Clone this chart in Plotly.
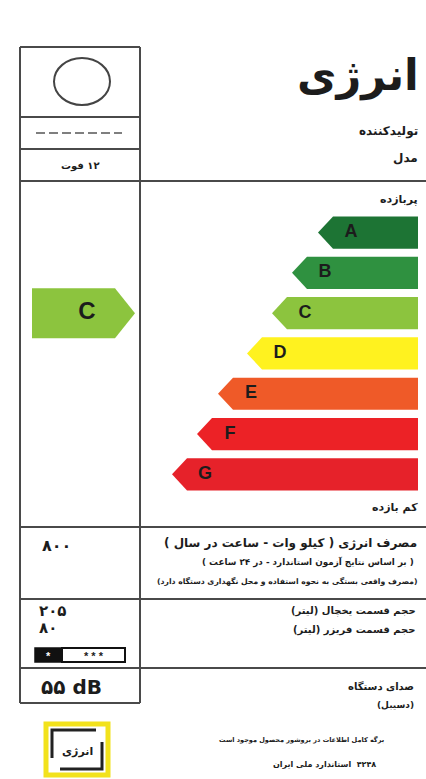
import plotly.graph_objects as go

# ---------------- data ----------------
classes = ["A", "B", "C", "D", "E", "F", "G"]
bar_lengths = [100, 126, 146, 171, 200, 221, 246]
class_colors = ["#1d7434", "#2f9140", "#8cc43e", "#fff21f", "#ef5a28", "#ec2226", "#e6222a"]
rating = "C"

title_text = "انرژی"
maker_label = "تولیدکننده"
model_label = "مدل"
high_eff_label = "پربازده"
low_eff_label = "کم بازده"
capacity_value = "۱۲ فوت"
energy_lines = ["مصرف انرژی ( کیلو وات - ساعت در سال )",
                "( بر اساس نتایج آزمون استاندارد - در ۲۴ ساعت )",
                "(مصرف واقعی بستگی به نحوه استفاده و محل نگهداری دستگاه دارد)"]
energy_value = "۸۰۰"
volume_lines = ["حجم قسمت یخچال (لیتر)", "حجم قسمت فریزر (لیتر)"]
volume_values = ["۲۰۵", "۸۰"]
freezer_stars = ["*", "* * *"]
noise_lines = ["صدای دستگاه", "(دسیبل)"]
noise_value = "۵۵ dB"
footer_lines = ["برگه کامل اطلاعات در بروشور محصول موجود است", "۴۲۴۸  استاندارد ملی ایران"]
logo_text = "انرژی"

FA = "DejaVu Sans"
LAT = "Liberation Sans"
INK = "#1c1c1c"
LINE = "#4a4a4a"
RLE, PDF = "\u202B", "\u202C"

fig = go.Figure()

# ---------------- efficiency scale ----------------
R = 418
tip = 15
h = 0.4
for i, (c, L, col) in enumerate(zip(classes, bar_lengths, class_colors)):
    tx = R - L
    rx = tx + tip
    fig.add_trace(go.Scatter(
        x=[R, rx, tx, rx, R, R], y=[i - h, i - h, i, i + h, i + h, i - h],
        mode="lines", fill="toself", fillcolor=col, line=dict(width=0, color=col),
        xaxis="x", yaxis="y2", hoverinfo="skip", showlegend=False))
    fig.add_trace(go.Scatter(
        x=[tx + 33], y=[i], mode="text", text=[f"<b>{c}</b>"],
        textfont=dict(family=LAT, size=18, color=INK),
        xaxis="x", yaxis="y2", hoverinfo="skip", showlegend=False))

# rating indicator (left column)
ri = classes.index(rating)
ih = 0.62
fig.add_trace(go.Scatter(
    x=[32, 115, 135, 115, 32, 32], y=[ri - ih, ri - ih, ri, ri + ih, ri + ih, ri - ih],
    mode="lines", fill="toself", fillcolor=class_colors[ri],
    line=dict(width=0, color=class_colors[ri]),
    xaxis="x", yaxis="y2", hoverinfo="skip", showlegend=False))
fig.add_trace(go.Scatter(
    x=[87], y=[ri], mode="text", text=[f"<b>{rating}</b>"],
    textfont=dict(family=LAT, size=24, color=INK),
    xaxis="x", yaxis="y2", hoverinfo="skip", showlegend=False))

# ---------------- frame ----------------
shapes = []
def hline(y, x0, x1, w=2):
    shapes.append(dict(type="line", xref="x", yref="y", x0=x0, x1=x1, y0=y, y1=y,
                       line=dict(color=LINE, width=w)))
def vline(x, y0, y1, w=2):
    shapes.append(dict(type="line", xref="x", yref="y", x0=x, x1=x, y0=y0, y1=y1,
                       line=dict(color=LINE, width=w)))

vline(20, 47, 703)
vline(140, 47, 703)
hline(47, 20, 140)
hline(703, 20, 140)
hline(117, 20, 140)
hline(149, 20, 140)
for yy in (181, 527, 599, 668):
    hline(yy, 20, 426)

# circle
shapes.append(dict(type="circle", xref="x", yref="y", x0=54, x1=110, y0=58, y1=105,
                   line=dict(color="#444444", width=2)))
# dashes
shapes.append(dict(type="line", xref="x", yref="y", x0=36, x1=122, y0=133, y1=133,
                   line=dict(color="#555555", width=1.5, dash="9px,4px")))
# freezer star box
shapes.append(dict(type="rect", xref="x", yref="y", x0=35, x1=62, y0=648, y1=662,
                   fillcolor="#111111", line=dict(color="#111111", width=1.5)))
shapes.append(dict(type="rect", xref="x", yref="y", x0=62, x1=125, y0=648, y1=662,
                   fillcolor="white", line=dict(color="#111111", width=2)))
# logo
shapes.append(dict(type="rect", xref="x", yref="y", x0=46, x1=108, y0=724, y1=775,
                   line=dict(color="#f2e21c", width=5)))
shapes.append(dict(type="path", xref="x", yref="y",
                   path="M 52 758 L 52 730 L 96 730", line=dict(color="#222222", width=3)))
shapes.append(dict(type="path", xref="x", yref="y",
                   path="M 60 769 L 102 769 L 102 742", line=dict(color="#222222", width=3)))

# ---------------- texts ----------------
ann = []
def txt(x, y, s, size, anchor="right", bold=True, family=FA, color=INK, rtl=True):
    s = RLE + s + PDF if rtl else s
    ann.append(dict(x=x, y=y, xref="x", yref="y", text=f"<b>{s}</b>" if bold else s,
                    showarrow=False, xanchor=anchor, yanchor="middle",
                    font=dict(family=family, size=size, color=color)))

txt(421, 75, title_text, 43)
txt(420, 131, maker_label, 12)
txt(420, 158, model_label, 12)
txt(420, 199, high_eff_label, 11)
txt(420, 507, low_eff_label, 11)
txt(80, 166, capacity_value, 10, anchor="center")

txt(419, 543, energy_lines[0], 12)
txt(416, 562, energy_lines[1], 8.8)
txt(419, 581, energy_lines[2], 7.7)
txt(40, 545, energy_value, 16, anchor="left", rtl=False)

txt(418, 611, volume_lines[0], 10)
txt(418, 630, volume_lines[1], 10)
txt(37, 611, volume_values[0], 15, anchor="left", rtl=False)
txt(37, 628, volume_values[1], 15, anchor="left", rtl=False)
txt(48, 656, freezer_stars[0], 11, anchor="center", family=LAT, color="white", rtl=False)
txt(94, 656, freezer_stars[1], 11, anchor="center", family=LAT, rtl=False)

txt(416, 686, noise_lines[0], 10)
txt(416, 705, noise_lines[1], 9)
txt(71, 687, noise_value, 20, anchor="center", rtl=False)

txt(386, 740, footer_lines[0], 6.5)
txt(378, 764, footer_lines[1], 8)
txt(77, 751, logo_text, 11, anchor="center")

fig.update_layout(
    width=426, height=779, margin=dict(l=0, r=0, t=0, b=0),
    paper_bgcolor="white", plot_bgcolor="white",
    xaxis=dict(range=[0, 426], domain=[0, 1], visible=False, fixedrange=True),
    yaxis=dict(range=[779, 0], domain=[0, 1], visible=False, fixedrange=True),
    yaxis2=dict(range=[6.5, -0.5], domain=[1 - 494.5 / 779, 1 - 212.4 / 779],
                anchor="x", visible=False, fixedrange=True),
    shapes=shapes, annotations=ann, showlegend=False,
)
fig.write_html("out.html", config={"displayModeBar": False},
               post_script="document.body.style.margin='0';")
